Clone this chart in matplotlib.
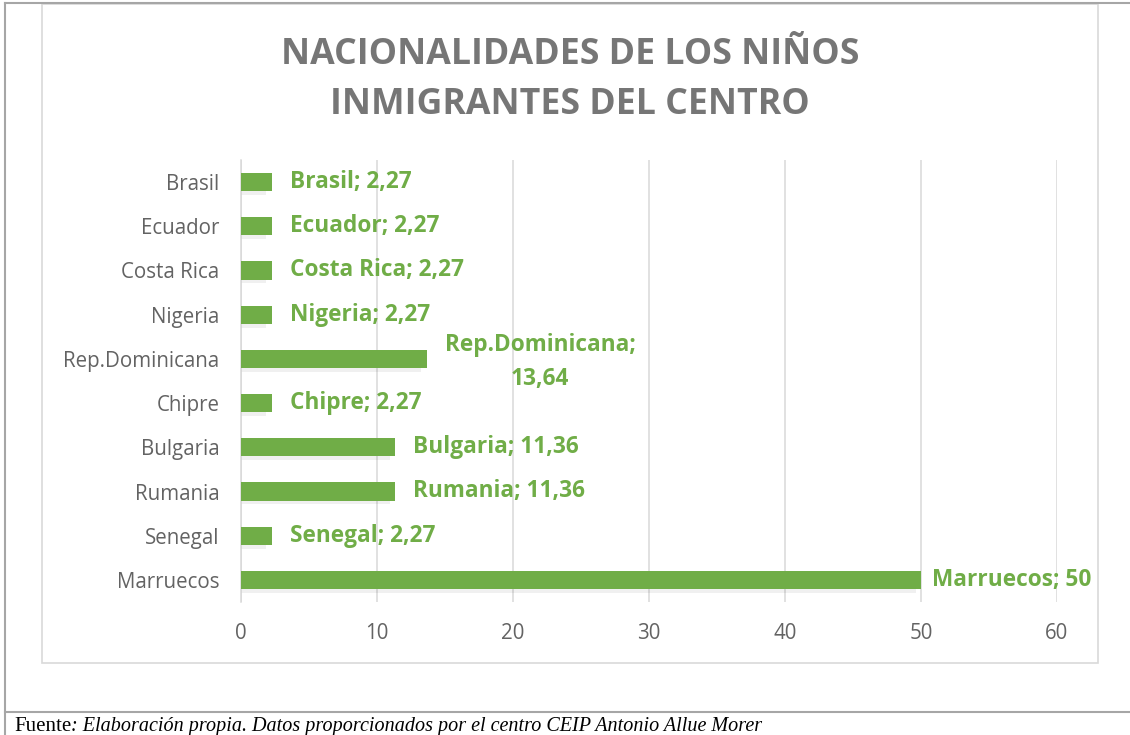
import numpy as np
import matplotlib.pyplot as plt
from matplotlib.patches import Rectangle
from matplotlib.lines import Line2D

paises = ['Marruecos', 'Senegal', 'Rumania', 'Bulgaria', 'Chipre',
          'Rep.Dominicana', 'Nigeria', 'Costa Rica', 'Ecuador', 'Brasil']
porcentajes = [50, 2.27, 11.36, 11.36, 2.27, 13.64, 2.27, 2.27, 2.27, 2.27]
xticks = [0, 10, 20, 30, 40, 50, 60]

verde = '#70AD47'
gris_titulo = '#767676'
gris_ticks = '#636363'

plt.rcParams['font.family'] = ['Open Sans', 'DejaVu Sans']

fig = plt.figure(figsize=(11.3, 7.35), dpi=100)
W, H = 1130, 735

def fx(px):
    return px / W

def fy(py):
    return 1 - py / H

# page lines and chart box
fig.add_artist(Line2D([fx(5), 1], [fy(2.5), fy(2.5)], color='#A6A6A6', lw=1.5))
fig.add_artist(Line2D([fx(5), fx(5)], [0, fy(2.5)], color='#A6A6A6', lw=1.5))
fig.add_artist(Line2D([fx(5), 1], [fy(712), fy(712)], color='#A6A6A6', lw=1.5))
fig.add_artist(Rectangle((fx(42), fy(663)), fx(1098 - 42), (663 - 4) / H,
                         fill=False, edgecolor='#D9D9D9', lw=1.2))

ax = fig.add_axes([fx(241), fy(602), fx(1057 - 241), (602 - 160) / H])
y = np.arange(len(paises))
# soft shadow
ax.barh(y - 0.06, porcentajes, height=0.46, left=-0.4, color='#000000', alpha=0.06, zorder=2)
ax.barh(y, porcentajes, height=0.41, color=verde, zorder=3)

ax.set_xlim(0, 60)
ax.set_ylim(-0.5, len(paises) - 0.5)
ax.set_xticks(xticks)
ax.set_xticklabels([str(t) for t in xticks])
ax.set_yticks(y)
ax.set_yticklabels(paises)
ax.tick_params(axis='both', length=0, labelsize=14.8, colors=gris_ticks)
ax.tick_params(axis='y', pad=15.5)
ax.tick_params(axis='x', pad=15)
ax.grid(axis='x', color='#D9D9D9', lw=1.1, zorder=0)
for s in ['top', 'right', 'bottom']:
    ax.spines[s].set_visible(False)
ax.spines['left'].set_color('#D9D9D9')
ax.spines['left'].set_linewidth(1.1)

for i, (p, v) in enumerate(zip(paises, porcentajes)):
    val = ('%.2f' % v).replace('.', ',') if v != int(v) else str(int(v))
    if p == 'Rep.Dominicana':
        ax.text((540 - 241) / 13.6, i - 0.07, p + ';\n' + val, ha='center', va='center',
                color=verde, fontsize=16.3, fontweight='bold', linespacing=1.55, zorder=4)
    else:
        off = 0.8 if v >= 40 else 1.3
        ax.text(v + off, i, p + '; ' + val, ha='left', va='center',
                color=verde, fontsize=16.3, fontweight='bold', zorder=4)

fig.text(fx(570), fy(55), 'NACIONALIDADES DE LOS NIÑOS', ha='center', va='center',
         fontsize=25.7, fontweight='bold', color=gris_titulo)
fig.text(fx(570), fy(105), 'INMIGRANTES DEL CENTRO', ha='center', va='center',
         fontsize=25.7, fontweight='bold', color=gris_titulo)

# footer
serif = ['Liberation Serif', 'DejaVu Serif']
t1 = fig.text(fx(14), fy(731), 'Fuente', ha='left', va='baseline', fontsize=15,
              family=serif, color='#000000')
ax.annotate(': Elaboración propia. Datos proporcionados por el centro CEIP Antonio Allue Morer',
            xy=(1, 0), xycoords=t1, ha='left', va='bottom', fontsize=14.5, style='italic',
            family=serif, color='#000000', annotation_clip=False)

fig.savefig('out.png', dpi=100)
